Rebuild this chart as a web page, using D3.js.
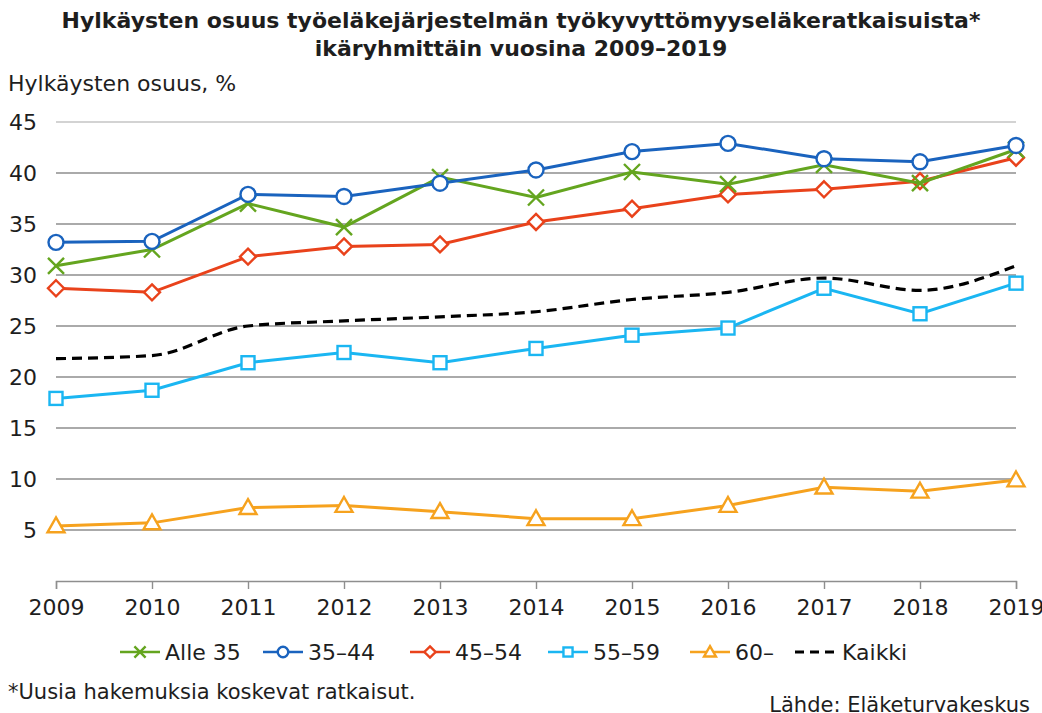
<!DOCTYPE html>
<html>
<head>
<meta charset="utf-8">
<script src="https://cdn.jsdelivr.net/npm/d3@7"></script>
<style>
  body { margin: 0; background: #fff; }
  text { font-family: "DejaVu Sans", Verdana, sans-serif; fill: #1e1e1e; }
</style>
</head>
<body>
<div id="chart"></div>
<script>
// vuodet ja sarjat (luettu kuvasta)
var years = [2009, 2010, 2011, 2012, 2013, 2014, 2015, 2016, 2017, 2018, 2019]
var alle35 = [30.9, 32.5, 37.0, 34.7, 39.6, 37.6, 40.1, 38.9, 40.8, 39.0, 42.3]
var ika3544 = [33.2, 33.3, 37.9, 37.7, 39.0, 40.3, 42.1, 42.9, 41.4, 41.1, 42.7]
var ika4554 = [28.7, 28.3, 31.8, 32.8, 33.0, 35.2, 36.5, 37.9, 38.4, 39.2, 41.5]
var ika5559 = [17.9, 18.7, 21.4, 22.4, 21.4, 22.8, 24.1, 24.8, 28.7, 26.2, 29.2]
var ika60 = [5.4, 5.7, 7.2, 7.4, 6.8, 6.1, 6.1, 7.4, 9.2, 8.8, 9.9]
var kaikki = [21.8, 22.1, 25.0, 25.5, 25.9, 26.4, 27.6, 28.3, 29.7, 28.5, 30.9]
var yTicks = [5, 10, 15, 20, 25, 30, 35, 40, 45]
var seriesNames = ["Alle 35", "35–44", "45–54", "55–59", "60–", "Kaikki"]

var series = [
    {name: seriesNames[0], values: alle35, color: "#64a51f", marker: "x"},
    {name: seriesNames[1], values: ika3544, color: "#1a63be", marker: "circle"},
    {name: seriesNames[2], values: ika4554, color: "#e9421b", marker: "diamond"},
    {name: seriesNames[3], values: ika5559, color: "#1ab6f2", marker: "square"},
    {name: seriesNames[4], values: ika60, color: "#f6a21e", marker: "triangle"},
    {name: seriesNames[5], values: kaikki, color: "#000", marker: "none"}
]

var w = 1042, h = 713
var plotLeft = 56, plotRight = 1016, plotTop = 122, plotBottom = 581

var svg = d3.select("#chart").append("svg")
    .attr("width", w)
    .attr("height", h)

var x = d3.scaleLinear().domain([2009, 2019]).range([plotLeft, plotRight])
var y = d3.scaleLinear().domain([0, 45]).range([plotBottom, plotTop])

// otsikko
svg.append("text")
    .attr("x", 521).attr("y", 28)
    .attr("text-anchor", "middle")
    .attr("font-size", 22).attr("font-weight", "bold")
    .text("Hylkäysten osuus työeläkejärjestelmän työkyvyttömyyseläkeratkaisuista*")
svg.append("text")
    .attr("x", 521).attr("y", 56)
    .attr("text-anchor", "middle")
    .attr("font-size", 22).attr("font-weight", "bold")
    .text("ikäryhmittäin vuosina 2009–2019")
svg.append("text")
    .attr("x", 8).attr("y", 91)
    .attr("font-size", 22)
    .text("Hylkäysten osuus, %")

// ruudukko
svg.append("g").selectAll("line")
    .data(yTicks)
    .enter()
    .append("line")
    .attr("x1", plotLeft).attr("x2", plotRight)
    .attr("y1", function (d) { return y(d) })
    .attr("y2", function (d) { return y(d) })
    .attr("stroke", function (d) { return d == 45 ? "#c4c4c4" : "#8e8e8e" })
    .attr("stroke-width", 1.4)

svg.append("g").selectAll("text")
    .data(yTicks)
    .enter()
    .append("text")
    .attr("x", 37)
    .attr("y", function (d) { return y(d) + 8 })
    .attr("text-anchor", "end")
    .attr("font-size", 22)
    .text(function (d) { return d })

// x-akseli
var xAxis = d3.axisBottom(x)
    .tickValues(years)
    .tickFormat(d3.format("d"))
    .tickSize(8)
    .tickPadding(10)
var xg = svg.append("g")
    .attr("transform", "translate(0," + plotBottom + ")")
    .call(xAxis)
xg.select(".domain").attr("stroke", "#8e8e8e").attr("stroke-width", 1.4)
xg.selectAll(".tick line").attr("stroke", "#8e8e8e").attr("stroke-width", 1.4)
xg.selectAll(".tick text")
    .attr("font-size", 22)
    .attr("font-family", "DejaVu Sans, Verdana, sans-serif")
    .attr("fill", "#1e1e1e")

function drawMarker(g, type, color, s) {
    // s = skaalaus (selitteessä pienempi)
    if (type == "circle") {
        g.append("circle").attr("r", 7.5 * s)
            .attr("fill", "#fff").attr("stroke", color).attr("stroke-width", 2.4)
    } else if (type == "diamond") {
        var d = 8 * s
        g.append("path").attr("d", "M0," + -d + "L" + d + ",0L0," + d + "L" + -d + ",0Z")
            .attr("fill", "#fff").attr("stroke", color).attr("stroke-width", 2.4)
    } else if (type == "square") {
        var q = 6.5 * s
        g.append("rect").attr("x", -q).attr("y", -q).attr("width", 2 * q).attr("height", 2 * q)
            .attr("fill", "#fff").attr("stroke", color).attr("stroke-width", 2.4)
    } else if (type == "triangle") {
        var t = 8.5 * s
        g.append("path").attr("d", "M0," + (-t) + "L" + t + "," + (t * 0.75) + "L" + (-t) + "," + (t * 0.75) + "Z")
            .attr("fill", "#fff").attr("stroke", color).attr("stroke-width", 2.4)
    } else if (type == "x") {
        var c = 8 * s
        g.append("path").attr("d", "M" + -c + "," + -c + "L" + c + "," + c + "M" + -c + "," + c + "L" + c + "," + -c)
            .attr("fill", "none").attr("stroke", color).attr("stroke-width", 2.4)
    }
}

var line = d3.line()
    .x(function (d, i) { return x(years[i]) })
    .y(function (d) { return y(d) })
var smoothLine = d3.line()
    .x(function (d, i) { return x(years[i]) })
    .y(function (d) { return y(d) })
    .curve(d3.curveMonotoneX)

// piirretään alhaalta ylös, jotta järjestys vastaa kuvaa
var drawOrder = [5, 4, 3, 2, 0, 1]
drawOrder.forEach(function (k) {
    var s = series[k]
    var g = svg.append("g")
    g.append("path")
        .attr("d", s.marker == "none" ? smoothLine(s.values) : line(s.values))
        .attr("fill", "none")
        .attr("stroke", s.color)
        .attr("stroke-width", s.marker == "none" ? 3.2 : 3)
        .attr("stroke-dasharray", s.marker == "none" ? "10,6" : null)
    if (s.marker != "none") {
        s.values.forEach(function (v, i) {
            var m = g.append("g").attr("transform", "translate(" + x(years[i]) + "," + y(v) + ")")
            drawMarker(m, s.marker, s.color, 1)
        })
    }
})

// selite
var legendX = [120, 263, 410, 548, 690, 795]
var lg = svg.append("g").attr("transform", "translate(0,652)")
series.forEach(function (s, i) {
    var item = lg.append("g").attr("transform", "translate(" + legendX[i] + ",0)")
    item.append("line")
        .attr("x1", 0).attr("x2", 40)
        .attr("stroke", s.color)
        .attr("stroke-width", s.marker == "none" ? 3.2 : 2.6)
        .attr("stroke-dasharray", s.marker == "none" ? "9,6" : null)
    var m = item.append("g").attr("transform", "translate(20,0)")
    drawMarker(m, s.marker, s.color, 0.7)
    item.append("text")
        .attr("x", s.marker == "none" ? 47 : 45).attr("y", 8)
        .attr("font-size", 22)
        .text(s.name)
})

svg.append("text")
    .attr("x", 8).attr("y", 699)
    .attr("font-size", 21)
    .text("*Uusia hakemuksia koskevat ratkaisut.")
svg.append("text")
    .attr("x", 1030).attr("y", 712)
    .attr("text-anchor", "end")
    .attr("font-size", 21)
    .text("Lähde: Eläketurvakeskus")
</script>
</body>
</html>
